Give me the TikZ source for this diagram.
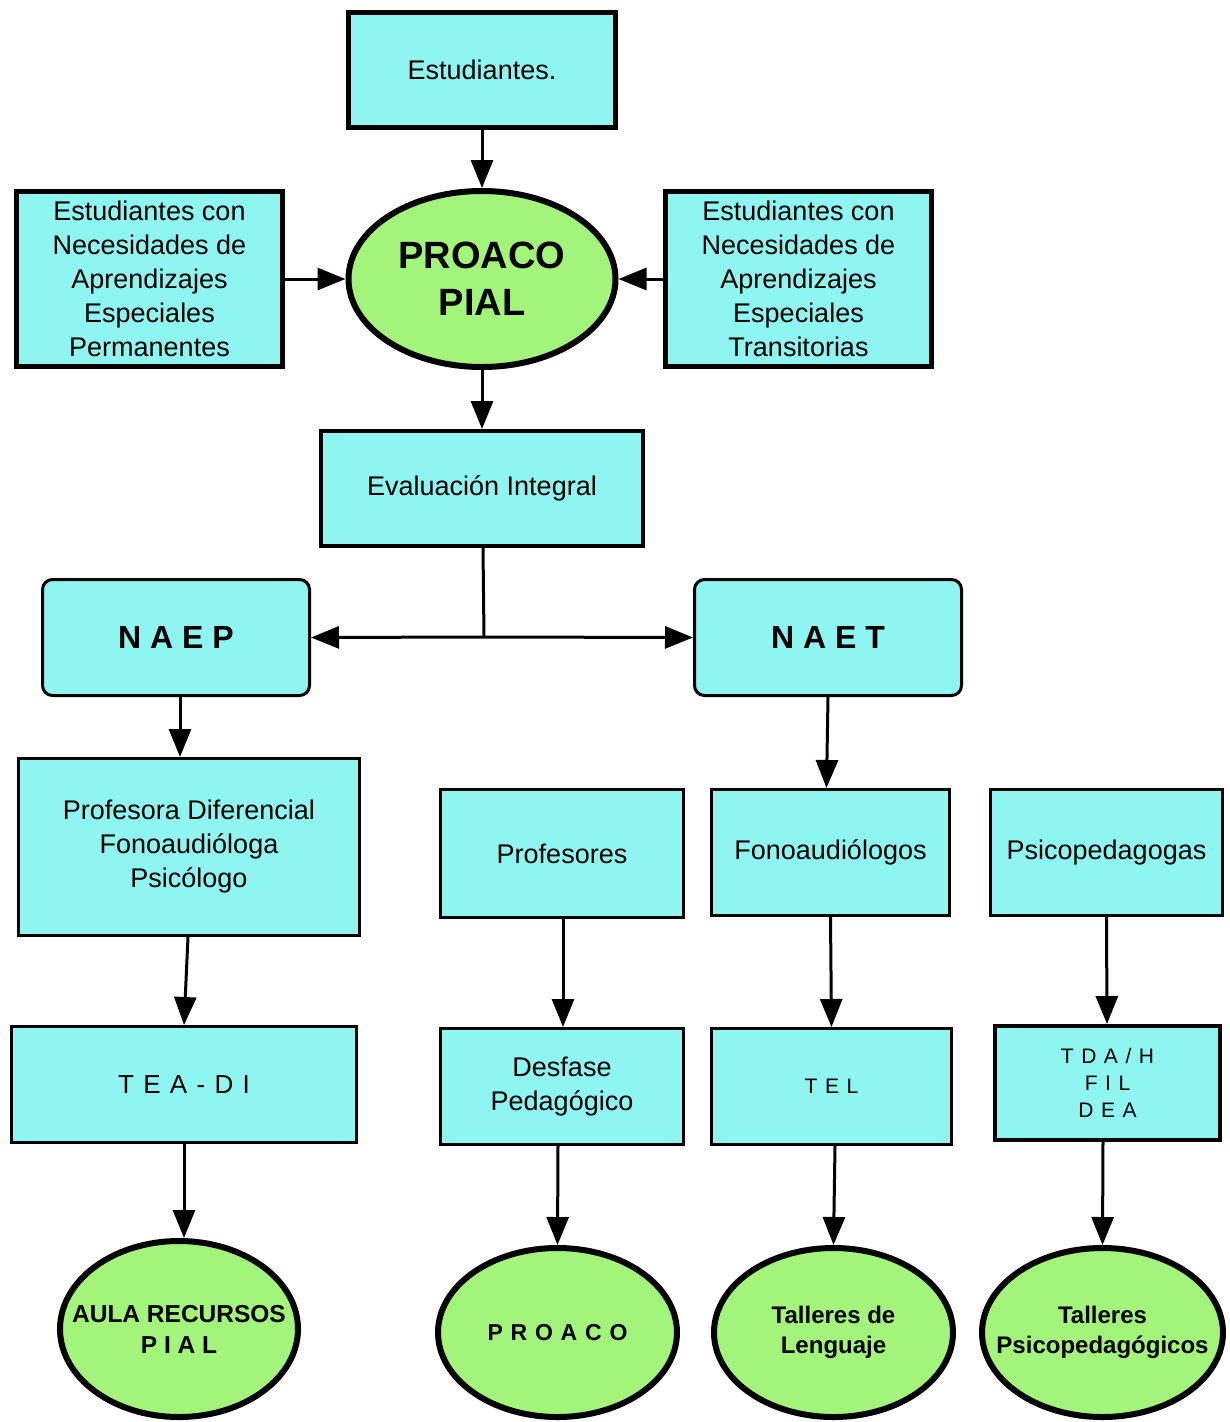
\documentclass[tikz,border=0pt]{standalone}
\usepackage{fontspec}
\setmainfont{Liberation Sans}
\usetikzlibrary{shapes.geometric,arrows.meta}
\definecolor{cyanfill}{RGB}{142,245,240}
\definecolor{greenfill}{RGB}{162,245,122}
\newcommand\fsz[2]{\fontsize{#1}{#2}\selectfont}
\tikzset{
  box/.style={draw, fill=cyanfill, inner sep=0pt, align=center, font=\fsz{27}{34}},
  oval/.style={draw, ellipse, fill=greenfill, inner sep=0pt, line width=6pt},
  ovaltext/.style={align=center, inner sep=0pt, font=\bfseries\fsz{24}{30}},
  conn/.style={line width=3pt, -{Triangle[length=28pt,width=22pt]}},
}
\begin{document}
\begin{tikzpicture}[x=1pt,y=-1pt]
\useasboundingbox (0,0) rectangle (1230,1422);
% top row
\node[box, line width=5pt, minimum width=267pt, minimum height=115pt] (est) at (482,70) {Estudiantes.};
\node[box, line width=5pt, minimum width=266pt, minimum height=175pt] (lbox) at (149.5,279)
  {Estudiantes con\\Necesidades de\\Aprendizajes\\Especiales\\Permanentes};
\node[oval, minimum width=267pt, minimum height=176pt,
  label={[ovaltext, font=\bfseries\fsz{38}{47}]center:PROACO\\PIAL}] (ell) at (482,279) {};
\node[box, line width=5pt, minimum width=266pt, minimum height=175pt] (rbox) at (798.5,279)
  {Estudiantes con\\Necesidades de\\Aprendizajes\\Especiales\\Transitorias};
\node[box, line width=4pt, minimum width=322pt, minimum height=115pt] (eval) at (482,488.5) {Evaluación Integral};
% second level
\node[box, line width=3pt, rounded corners=10pt, minimum width=267pt, minimum height=116pt, font=\bfseries\fsz{32}{38}] (naep) at (176,637.5) {N A E P};
\node[box, line width=3pt, rounded corners=10pt, minimum width=267pt, minimum height=116pt, font=\bfseries\fsz{32}{38}] (naet) at (828,637.5) {N A E T};
% third level
\node[box, line width=3pt, minimum width=341pt, minimum height=177pt] (prof) at (189,847)
  {Profesora Diferencial\\Fonoaudióloga\\Psicólogo};
\node[box, line width=3pt, minimum width=243pt, minimum height=128pt] (profes) at (562,853.5) {Profesores};
\node[box, line width=3pt, minimum width=238pt, minimum height=126pt] (fono) at (830.5,852.5) {Fonoaudiólogos};
\node[box, line width=3pt, minimum width=232pt, minimum height=126pt] (psico) at (1106.5,852.5) {Psicopedagogas};
% fourth level
\node[box, line width=3pt, minimum width=345pt, minimum height=116pt, font=\fsz{26}{32}\addfontfeature{LetterSpace=8}] (tea) at (184,1084.5) {T E A - D I};
\node[box, line width=3pt, minimum width=243pt, minimum height=116pt] (desf) at (562,1086.5) {Desfase\\Pedagógico};
\node[box, line width=3pt, minimum width=240pt, minimum height=116pt, font=\fsz{21}{27}\addfontfeature{LetterSpace=8}] (tel) at (831.5,1086.5) {T E L};
\node[box, line width=4pt, minimum width=225pt, minimum height=114pt, font=\fsz{21}{27}\addfontfeature{LetterSpace=8}] (tda) at (1107.5,1083) {T D A / H\\F I L\\D E A};
% bottom ellipses
\node[oval, minimum width=238pt, minimum height=176pt,
  label={[ovaltext, font=\bfseries\fsz{24.5}{31}]center:AULA RECURSOS\\P I A L}] (aula) at (179,1329) {};
\node[oval, minimum width=239pt, minimum height=169pt,
  label={[ovaltext, font=\bfseries\fsz{23}{29}\addfontfeature{LetterSpace=6}]center:P R O A C O}] (proaco) at (557.5,1332.5) {};
\node[oval, minimum width=239pt, minimum height=169pt,
  label={[ovaltext]center:Talleres de\\Lenguaje}] (tall1) at (833.5,1332.5) {};
\node[oval, minimum width=241pt, minimum height=169pt,
  label={[ovaltext]center:Talleres\\Psicopedagógicos}] (tall2) at (1102.5,1332.5) {};
% connectors
\draw[conn] (est.south) -- (ell.north);
\draw[conn] (lbox.east) -- (ell.west);
\draw[conn] (rbox.west) -- (ell.east);
\draw[conn] (ell.south) -- (eval.north);
\coordinate (j) at (484,637);
\draw[line width=3pt] ([xshift=1pt]eval.south) -- (j);
\draw[conn] (j) -- (naep.east);
\draw[conn] (j) -- (naet.west);
\draw[conn] ([xshift=4pt]naep.south) -- ([xshift=-9pt]prof.north);
\draw[conn] (naet.south) -- ([xshift=-4pt]fono.north);
\draw[conn] ([xshift=-1pt]prof.south) -- (tea.north);
\draw[conn] ([xshift=1pt]profes.south) -- ([xshift=1pt]desf.north);
\draw[conn] (fono.south) -- (tel.north);
\draw[conn] (psico.south) -- ([xshift=-0.5pt]tda.north);
\draw[conn] (tea.south) -- ([xshift=5pt]aula.north);
\draw[conn] ([xshift=-4pt]desf.south) -- (proaco.north);
\draw[conn] ([xshift=3.5pt]tel.south) -- (tall1.north);
\draw[conn] ([xshift=-4.5pt]tda.south) -- (tall2.north);
\end{tikzpicture}
\end{document}
